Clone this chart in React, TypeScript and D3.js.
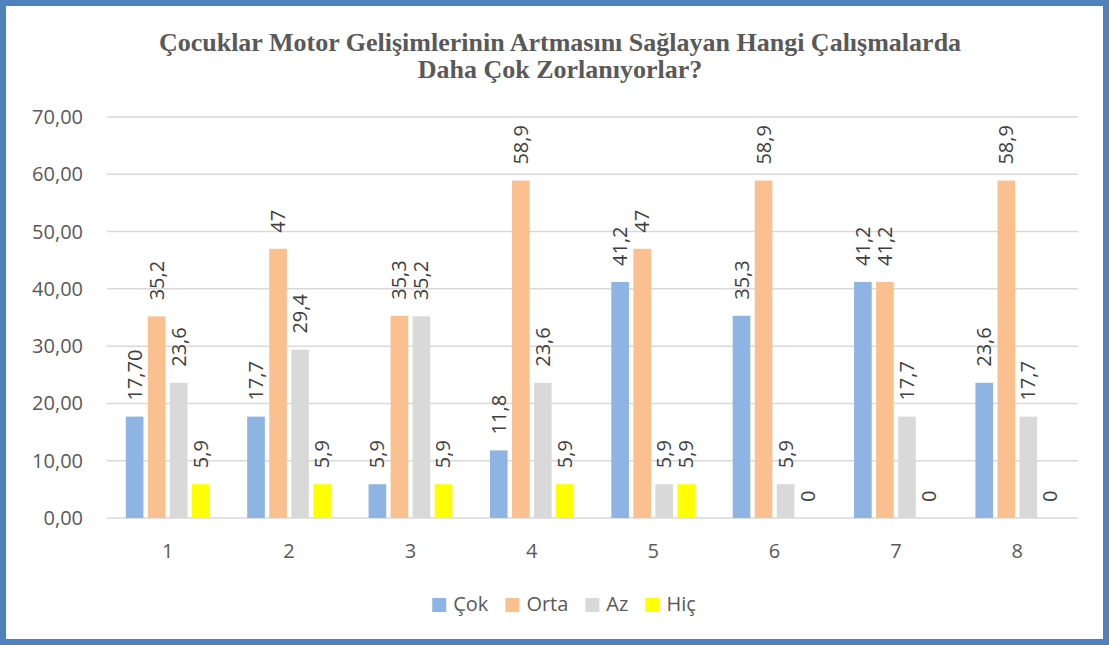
import React, { useEffect, useRef } from 'react';
import * as d3 from 'd3';

const categories = ['1', '2', '3', '4', '5', '6', '7', '8'];
const seriesNames = ['Çok', 'Orta', 'Az', 'Hiç'];
const seriesColors = ['#8eb4e3', '#fac090', '#d9d9d9', '#ffff00'];

const cokValues = [17.7, 17.7, 5.9, 11.8, 41.2, 35.3, 41.2, 23.6];
const ortaValues = [35.2, 47, 35.3, 58.9, 47, 58.9, 41.2, 58.9];
const azValues = [23.6, 29.4, 35.2, 23.6, 5.9, 5.9, 17.7, 17.7];
const hicValues = [5.9, 5.9, 5.9, 5.9, 5.9, 0, 0, 0];

// labels as printed on the chart (the first one carries two decimals)
const cokLabels = ['17,70', '17,7', '5,9', '11,8', '41,2', '35,3', '41,2', '23,6'];

const yTicks = [0, 10, 20, 30, 40, 50, 60, 70];
const titleLines = [
  'Çocuklar Motor Gelişimlerinin Artmasını Sağlayan Hangi Çalışmalarda',
  'Daha Çok Zorlanıyorlar?',
];

const fmt = (v: number) => String(v).replace('.', ',');

const W = 1109;
const H = 645;

const App: React.FC = () => {
  const svgRef = useRef<SVGSVGElement>(null);

  useEffect(() => {
    if (!svgRef.current) return;
    const svg = d3.select(svgRef.current);
    svg.selectAll('*').remove();

    const font = "'Open Sans', 'Liberation Sans', sans-serif";
    const textColor = '#595959';

    const allValues = [cokValues, ortaValues, azValues, hicValues];
    const allLabels = [cokLabels, ortaValues.map(fmt), azValues.map(fmt), hicValues.map(fmt)];

    // background + frame
    svg.append('rect').attr('width', W).attr('height', H).attr('fill', '#ffffff');
    svg.append('rect')
      .attr('x', 3).attr('y', 3)
      .attr('width', W - 6).attr('height', H - 6)
      .attr('fill', 'none')
      .attr('stroke', '#4f81bd')
      .attr('stroke-width', 6);

    // title, one text per line
    svg.append('g')
      .selectAll('text')
      .data(titleLines)
      .join('text')
      .attr('x', 560)
      .attr('y', (_, i) => 51 + i * 27)
      .attr('text-anchor', 'middle')
      .attr('font-family', "'Liberation Serif', 'DejaVu Serif', serif")
      .attr('font-weight', 'bold')
      .attr('font-size', 26)
      .attr('fill', textColor)
      .text(d => d);

    // scales
    const left = 107, right = 1078, top = 117, bottom = 518;
    const y = d3.scaleLinear().domain([0, 70]).range([bottom, top]);
    const x0 = d3.scaleBand<string>().domain(categories).range([left, right]).paddingInner(0.31).paddingOuter(0.155);
    const x1 = d3.scaleBand<string>().domain(seriesNames).range([0, x0.bandwidth()]).paddingInner(0.2);

    // grid
    svg.append('g')
      .selectAll('line')
      .data(yTicks)
      .join('line')
      .attr('x1', left).attr('x2', right)
      .attr('y1', d => y(d)).attr('y2', d => y(d))
      .attr('stroke', '#d9d9d9')
      .attr('stroke-width', 1.5);

    svg.append('g')
      .selectAll('text')
      .data(yTicks)
      .join('text')
      .attr('x', 83)
      .attr('y', d => y(d))
      .attr('dy', '0.35em')
      .attr('text-anchor', 'end')
      .attr('font-family', font)
      .attr('font-size', 20)
      .attr('fill', textColor)
      .text(d => d.toFixed(2).replace('.', ','));

    // x labels
    svg.append('g')
      .selectAll('text')
      .data(categories)
      .join('text')
      .attr('x', d => (x0(d) as number) + x0.bandwidth() / 2)
      .attr('y', 558)
      .attr('text-anchor', 'middle')
      .attr('font-family', font)
      .attr('font-size', 20)
      .attr('fill', textColor)
      .text(d => d);

    // bars + labels
    seriesNames.forEach((name, si) => {
      const vals = allValues[si];
      const labs = allLabels[si];
      const g = svg.append('g');
      g.selectAll('rect')
        .data(categories)
        .join('rect')
        .attr('x', d => (x0(d) as number) + (x1(name) as number))
        .attr('y', (_, i) => y(vals[i]))
        .attr('width', x1.bandwidth())
        .attr('height', (_, i) => bottom - y(vals[i]))
        .attr('fill', seriesColors[si]);

      g.selectAll('text')
        .data(categories)
        .join('text')
        .attr('transform', (d, i) => {
          const cx = (x0(d) as number) + (x1(name) as number) + x1.bandwidth() / 2;
          return `translate(${cx},${y(vals[i]) - 16}) rotate(-90)`;
        })
        .attr('dy', '0.35em')
        .attr('text-anchor', 'start')
        .attr('font-family', font)
        .attr('font-size', 20)
        .attr('fill', '#404040')
        .text((_, i) => labs[i]);
    });

    // legend
    const legend = svg.append('g');
    let lx = 0;
    seriesNames.forEach((name, si) => {
      const ig = legend.append('g');
      ig.append('rect').attr('x', 0).attr('y', -13).attr('width', 14).attr('height', 14).attr('fill', seriesColors[si]);
      const t = ig.append('text')
        .attr('x', 21)
        .attr('font-family', font)
        .attr('font-size', 20)
        .attr('fill', textColor)
        .text(name);
      const tw = (t.node() as SVGTextElement).getComputedTextLength();
      ig.attr('transform', `translate(${lx},0)`);
      lx += 21 + tw + 17;
    });
    const totalW = lx - 17;
    legend.attr('transform', `translate(${564 - totalW / 2},611)`);
  }, []);

  return (
    <svg
      ref={svgRef}
      width={W}
      height={H}
      style={{ position: 'fixed', left: 0, top: 0, display: 'block' }}
    />
  );
};

export default App;
